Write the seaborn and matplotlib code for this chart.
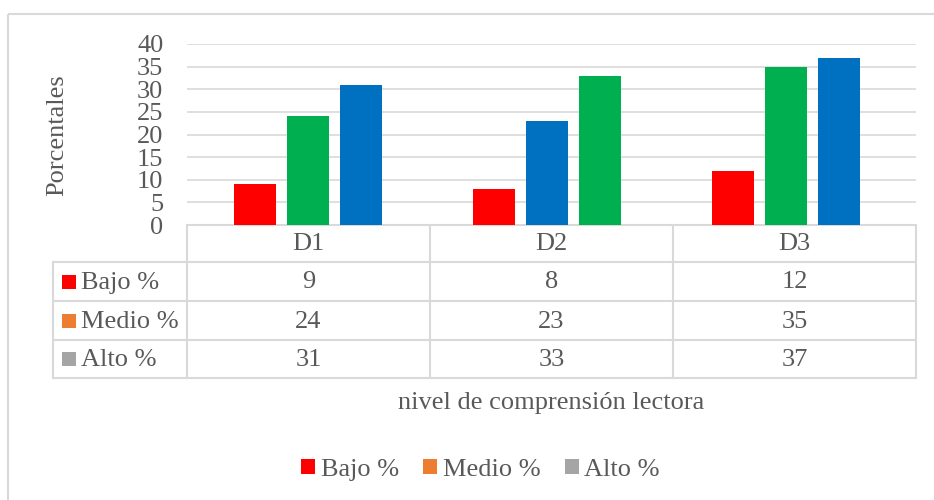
import matplotlib
matplotlib.use("Agg")
import matplotlib.pyplot as plt
from matplotlib.patches import Patch, Rectangle
import seaborn as sns
import pandas as pd

# data
categories = ["D1", "D2", "D3"]
series = ["Bajo %", "Medio %", "Alto %"]
bajo = [9, 8, 12]
medio = [24, 23, 35]
alto = [31, 33, 37]
legend_colors = ["#FF0000", "#ED7D31", "#A5A5A5"]
# colours the bars actually carry in the picture
bar_colors = {
    "Bajo %": ["#FF0000", "#FF0000", "#FF0000"],
    "Medio %": ["#00B050", "#0070C0", "#00B050"],
    "Alto %": ["#0070C0", "#00B050", "#0070C0"],
}
y_ticks = [0, 5, 10, 15, 20, 25, 30, 35, 40]

df = pd.DataFrame(
    {
        "cat": categories * 3,
        "serie": [s for s in series for _ in categories],
        "valor": bajo + medio + alto,
    }
)

sns.set_style("white")
plt.rcParams["font.family"] = ["Liberation Serif", "DejaVu Serif"]
txt = "#595959"
grid_c = "#D9D9D9"
fs = 19

W, H = 934, 500
fig = plt.figure(figsize=(W / 100, H / 100), dpi=100)

# overlay in pixel coordinates for border and data table
ov = fig.add_axes([0, 0, 1, 1])
ov.set_xlim(0, W)
ov.set_ylim(H, 0)
ov.axis("off")

# plot area in pixels
L, R, T, B = 187, 916, 44, 225
ax = fig.add_axes([L / W, 1 - B / H, (R - L) / W, (B - T) / H])
ax.patch.set_alpha(0)

sns.barplot(
    data=df, x="cat", y="valor", hue="serie", order=categories, hue_order=series,
    palette=legend_colors, saturation=1, width=0.667, gap=0.22,
    linewidth=0, legend=False, ax=ax, zorder=3,
)
for i, s in enumerate(series):
    for j in range(len(categories)):
        ax.patches[i * len(categories) + j].set_facecolor(bar_colors[s][j])

ax.set_ylim(0, 40)
ax.set_yticks(y_ticks)
ax.set_yticklabels([str(t) for t in y_ticks], fontsize=fs, color=txt)
ax.tick_params(axis="y", length=0, pad=17)
ax.set_xticks([])
ax.set_xlabel("")
ax.set_ylabel("")
ax.set_xlim(-0.506, 2.544)
for t in y_ticks[1:]:
    ax.axhline(t, color=grid_c, lw=1.2, zorder=1)
for sp in ax.spines.values():
    sp.set_visible(False)

# outer chart border
ov.add_patch(Rectangle((8, 14), W, H, fill=False, ec=grid_c, lw=1.5))

# data table
rows_y = [225, 262, 301, 340, 378]
col_w = (R - L) / len(categories)
col_x = [L + k * col_w for k in range(len(categories) + 1)]
tl = 53
lw_t = 1.5
ov.plot([L, R], [rows_y[0], rows_y[0]], color=grid_c, lw=lw_t)
for y in rows_y[1:]:
    ov.plot([tl, R], [y, y], color=grid_c, lw=lw_t)
for x in col_x:
    ov.plot([x, x], [rows_y[0], rows_y[-1]], color=grid_c, lw=lw_t)
ov.plot([tl, tl], [rows_y[1], rows_y[-1]], color=grid_c, lw=lw_t)

for j, c in enumerate(categories):
    cx = (col_x[j] + col_x[j + 1]) / 2
    ov.text(cx, (rows_y[0] + rows_y[1]) / 2 + 1, c, ha="center", va="center",
            fontsize=fs, color=txt)
vals = [bajo, medio, alto]
for i, s in enumerate(series):
    cy = (rows_y[i + 1] + rows_y[i + 2]) / 2
    ov.add_patch(Rectangle((62, cy - 7), 14, 14, color=legend_colors[i], lw=0))
    ov.text(81, cy + 1, s, ha="left", va="center", fontsize=fs, color=txt)
    for j in range(len(categories)):
        cx = (col_x[j] + col_x[j + 1]) / 2
        ov.text(cx, cy + 1, str(vals[i][j]), ha="center", va="center",
                fontsize=fs, color=txt)

# axis titles
fig.text(57 / W, 1 - 135 / H, "Porcentales", rotation=90, ha="center",
         va="center", fontsize=fs, color=txt)
fig.text((L + R) / 2 / W, 1 - 403 / H, "nivel de comprensión lectora",
         ha="center", va="center", fontsize=fs, color=txt)

# legend
handles = [Patch(facecolor=c, edgecolor="none", label=s)
           for c, s in zip(legend_colors, series)]
leg = fig.legend(
    handles=handles, loc="center", bbox_to_anchor=(480.5 / W, 1 - 470 / H),
    ncol=3, frameon=False, fontsize=fs, handlelength=0.52, handleheight=0.52,
    handletextpad=0.22, columnspacing=0.93,
)
for t in leg.get_texts():
    t.set_color(txt)

fig.savefig("out.png", dpi=100)
